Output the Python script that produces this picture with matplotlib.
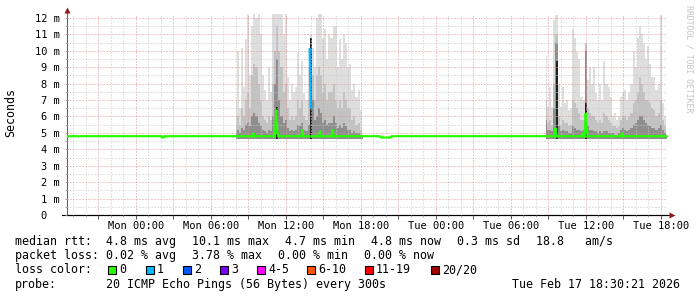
import matplotlib
matplotlib.use("Agg")
import matplotlib.pyplot as plt
import matplotlib.dates as mdates
from matplotlib.ticker import MultipleLocator, FixedLocator, FixedFormatter
from matplotlib.patches import Rectangle
import pandas as pd

plt.rcParams['font.family'] = ['DejaVu Sans Mono', 'DejaVu Sans']

# ---------------- data ----------------
x_start = "2026-02-15 18:30:21"
x_end = "2026-02-17 18:30:21"

xtick_times = pd.date_range("2026-02-15 21:00", "2026-02-17 18:00", freq="3h")
xtick_labels = ["", "Mon 00:00", "", "Mon 06:00", "", "Mon 12:00", "", "Mon 18:00",
                "", "Tue 00:00", "", "Tue 06:00", "", "Tue 12:00", "", "Tue 18:00"]

ytick_values = [0, 1, 2, 3, 4, 5, 6, 7, 8, 9, 10, 11, 12]
ytick_labels = ["0  ", "1 m", "2 m", "3 m", "4 m", "5 m", "6 m", "7 m", "8 m",
                "9 m", "10 m", "11 m", "12 m"]

# smoke (ms) sampled every 10 minutes in the two busy periods
smoke1_start = "2026-02-16 08:00"
smoke1_max = [7.0, 10.0, 6.5, 10.2, 7.8, 10.7, 12.3, 8.5, 11.5, 12.3,
              12.0, 12.3, 11.0, 8.5, 7.6, 7.0, 9.0, 7.5, 12.3, 12.3,
              12.3, 12.3, 12.3, 11.0, 12.3, 8.4, 7.0, 8.0, 7.5, 7.8,
              9.9, 8.5, 9.4, 7.4, 7.0, 9.0, 11.0, 10.2, 9.0, 12.0,
              12.3, 12.3, 10.7, 11.3, 9.5, 11.0, 10.8, 11.5, 11.5, 9.0,
              10.7, 9.5, 11.0, 10.5, 9.0, 9.2, 7.6, 8.0, 7.2, 7.6,
              6.4, 5.0]
smoke1_hi = [5.5, 6.0, 5.5, 6.5, 6.0, 7.0, 7.5, 6.5, 8.5, 9.2,
             9.0, 8.0, 7.0, 6.0, 5.8, 5.6, 6.0, 5.8, 8.0, 10.0,
             11.5, 10.0, 9.0, 7.5, 8.0, 6.5, 5.8, 6.0, 5.8, 6.0,
             7.0, 6.5, 7.0, 6.0, 5.8, 7.0, 10.5, 8.5, 7.0, 8.5,
             9.0, 8.5, 7.5, 8.0, 7.0, 7.5, 7.5, 8.0, 7.0, 6.5,
             7.0, 6.5, 7.5, 7.0, 6.5, 6.5, 5.8, 6.0, 5.5, 5.6,
             5.2, 4.9]
smoke1_dark = [5.0, 5.2, 5.0, 5.3, 5.2, 5.5, 5.6, 5.4, 6.0, 6.2,
               6.0, 5.6, 5.4, 5.2, 5.1, 5.0, 5.2, 5.1, 6.0, 8.0,
               9.5, 7.0, 6.0, 5.6, 5.8, 5.3, 5.1, 5.2, 5.1, 5.2,
               5.5, 5.4, 5.6, 5.2, 5.1, 5.5, 10.5, 7.0, 5.8, 6.0,
               6.5, 6.2, 5.6, 5.8, 5.5, 5.6, 5.6, 6.0, 5.6, 5.3,
               5.5, 5.3, 5.6, 5.4, 5.2, 5.2, 5.0, 5.1, 5.0, 5.0,
               4.9, 4.8]

smoke2_start = "2026-02-17 08:50"
smoke2_max = [9.7, 6.6, 7.8, 6.6, 11.9, 12.2, 8.0, 6.6, 7.8, 6.8,
              7.0, 6.4, 6.5, 11.3, 10.8, 9.9, 9.5, 7.2, 7.0, 10.5,
              8.2, 9.0, 8.0, 9.0, 7.4, 7.0, 8.0, 7.0, 9.4, 8.0,
              7.8, 7.2, 6.0, 6.2, 5.8, 6.0, 7.2, 7.5, 7.6, 7.0,
              7.4, 8.0, 10.0, 9.0, 10.8, 11.5, 11.0, 10.5, 9.5, 10.3,
              9.2, 8.4, 8.4, 7.6, 8.0, 12.2, 6.8, 6.0, 5.0]
smoke2_hi = [7.0, 5.6, 5.8, 5.5, 8.0, 11.0, 6.0, 5.5, 5.8, 5.6,
             5.6, 5.4, 5.5, 7.0, 6.8, 6.5, 6.2, 5.8, 5.8, 10.5,
             6.5, 6.2, 6.0, 6.0, 5.8, 5.6, 5.8, 5.6, 6.2, 6.0,
             5.8, 5.6, 5.4, 5.4, 5.3, 5.4, 5.8, 6.0, 6.0, 5.8,
             6.0, 6.2, 6.8, 7.0, 7.5, 8.4, 8.0, 7.5, 7.0, 7.0,
             6.8, 6.5, 6.4, 6.0, 6.2, 7.0, 5.8, 5.4, 4.9]
smoke2_dark = [5.8, 5.2, 5.2, 5.1, 6.5, 10.5, 5.4, 5.1, 5.2, 5.1,
               5.1, 5.0, 5.0, 5.4, 5.3, 5.2, 5.2, 5.1, 5.2, 10.0,
               5.4, 5.2, 5.2, 5.1, 5.1, 5.0, 5.1, 5.0, 5.1, 5.1,
               5.0, 5.0, 5.0, 4.9, 4.9, 5.0, 5.2, 5.3, 5.2, 5.1,
               5.2, 5.3, 5.5, 5.6, 5.8, 6.0, 6.0, 5.8, 5.6, 5.5,
               5.4, 5.3, 5.3, 5.2, 5.3, 5.5, 5.2, 5.0, 4.8]
smoke_floor = 4.65

core_times = ["2026-02-16 11:20", "2026-02-16 14:00", "2026-02-17 09:40", "2026-02-17 12:00"]
core_tops = [6.6, 10.8, 9.4, 6.8]

median_times = ["2026-02-15 18:30", "2026-02-16 02:00", "2026-02-16 02:10", "2026-02-16 02:20",
                "2026-02-16 09:20", "2026-02-16 09:25", "2026-02-16 09:30",
                "2026-02-16 11:05", "2026-02-16 11:10", "2026-02-16 11:15", "2026-02-16 11:20",
                "2026-02-16 11:25", "2026-02-16 13:15", "2026-02-16 13:20", "2026-02-16 13:25",
                "2026-02-16 13:50", "2026-02-16 13:55", "2026-02-16 14:00", "2026-02-16 14:05",
                "2026-02-16 14:40", "2026-02-16 14:45", "2026-02-16 14:50",
                "2026-02-16 15:40", "2026-02-16 15:45", "2026-02-16 15:50",
                "2026-02-16 19:30", "2026-02-16 19:40", "2026-02-16 20:20", "2026-02-16 20:30",
                "2026-02-17 09:30", "2026-02-17 09:35", "2026-02-17 09:40",
                "2026-02-17 11:40", "2026-02-17 11:45", "2026-02-17 11:50",
                "2026-02-17 11:55", "2026-02-17 12:00", "2026-02-17 12:05", "2026-02-17 12:10",
                "2026-02-17 14:50", "2026-02-17 14:55", "2026-02-17 15:00", "2026-02-17 18:30"]
median_values = [4.8, 4.8, 4.72, 4.8,
                 4.8, 4.97, 4.8,
                 4.8, 5.3, 6.4, 5.0,
                 4.8, 4.8, 5.2, 4.8,
                 4.8, 10.1, 6.6, 4.8,
                 4.8, 5.1, 4.8,
                 4.8, 5.2, 4.8,
                 4.8, 4.72, 4.72, 4.8,
                 4.8, 5.3, 4.8,
                 4.8, 5.0, 4.8,
                 4.8, 6.2, 5.2, 4.8,
                 4.8, 5.0, 4.8, 4.8]
median_loss = [0, 0, 0, 0,
               0, 0, 0,
               0, 0, 0, 0,
               0, 0, 0, 0,
               0, 1, 1, 0,
               0, 0, 0,
               0, 0, 0,
               0, 0, 0, 0,
               0, 0, 0,
               0, 0, 0,
               0, 0, 0, 0,
               0, 0, 0, 0]

rtt_label = "median rtt:"
rtt_stats = ["4.8 ms avg", "10.1 ms max", "4.7 ms min", "4.8 ms now", "0.3 ms sd", "18.8   am/s"]
loss_label = "packet loss:"
loss_stats = ["0.02 % avg", "3.78 % max", "0.00 % min", "0.00 % now"]
color_label = "loss color:"
loss_names = ["0", "1", "2", "3", "4-5", "6-10", "11-19", "20/20"]
loss_colors = ["#26ff00", "#00b8ff", "#0059ff", "#7e00ff", "#ff00ff", "#ff5500", "#ff0000", "#a10000"]
probe_label = "probe:"
probe_text = "20 ICMP Echo Pings (56 Bytes) every 300s"
stamp_text = "Tue Feb 17 18:30:21 2026"
watermark = "RRDTOOL / TOBI OETIKER"
ylabel = "Seconds"

# ---------------- layout ----------------
W, H = 697, 297
fig = plt.figure(figsize=(W / 100, H / 100), dpi=100)
fig.patch.set_facecolor("white")


def fx(px):
    return px / W


def fy(py):
    return 1 - py / H


AX_L, AX_R, AX_T, AX_B = 67, 667, 14, 215
PX_PER_MS = 16.42
ax = fig.add_axes([fx(AX_L), fy(AX_B), (AX_R - AX_L) / W, (AX_B - AX_T) / H])
ax.set_facecolor("white")
ax.set_xlim(pd.Timestamp(x_start), pd.Timestamp(x_end))
ax.set_ylim(0, (AX_B - AX_T) / PX_PER_MS)

# smoke
shades = ["#dedede", "#c2c2c2", "#8e8e8e"]
for start, layers in [(smoke1_start, (smoke1_max, smoke1_hi, smoke1_dark)),
                      (smoke2_start, (smoke2_max, smoke2_hi, smoke2_dark))]:
    t = pd.date_range(start, periods=len(layers[0]), freq="10min")
    for vals, col in zip(layers, shades):
        ax.fill_between(t, smoke_floor, vals, step="mid", color=col, lw=0, zorder=1)

ax.vlines(pd.to_datetime(core_times), smoke_floor, core_tops, color="#1e1e1e", lw=1.4, zorder=1.5)

# median line, one line per loss class (segments only where neighbours share the class)
mt = pd.to_datetime(median_times)
for cls, col in enumerate(loss_colors):
    yv = [v if l == cls else float("nan") for v, l in zip(median_values, median_loss)]
    if all(y != y for y in yv):
        continue
    ax.plot(mt, yv, color=col, lw=1.6, zorder=3 + 0.1 * cls, solid_joinstyle="miter")
    ax.plot(mt, yv, color=col, lw=0, marker="s", ms=1.6, mec="none", zorder=3 + 0.1 * cls)

# grid
ax.set_axisbelow(False)
ax.xaxis.set_major_locator(FixedLocator(mdates.date2num(xtick_times)))
ax.xaxis.set_major_formatter(FixedFormatter(xtick_labels))
ax.xaxis.set_minor_locator(mdates.HourLocator())
ax.yaxis.set_major_locator(FixedLocator(ytick_values))
ax.yaxis.set_major_formatter(FixedFormatter(ytick_labels))
ax.yaxis.set_minor_locator(MultipleLocator(0.5))
ax.grid(which="major", color="#dc9494", linestyle=(0, (1, 2)), lw=0.72)
ax.grid(which="minor", color="#c9c9c9", linestyle=(0, (1, 2)), lw=0.72)

ax.tick_params(axis="x", which="major", length=3, width=0.7, color="#555555", direction="out",
               labelsize=7.5, pad=1.5, labelcolor="black")
ax.tick_params(axis="x", which="minor", length=1.5, width=0.6, color="#999999", direction="out")
ax.tick_params(axis="y", which="both", length=1.5, width=0.6, color="#999999", direction="out",
               labelsize=7.5, pad=3.6, labelcolor="black")

for s in ("top", "right"):
    ax.spines[s].set_visible(False)
ax.spines["left"].set_color("#666666")
ax.spines["left"].set_linewidth(0.8)
ax.spines["bottom"].set_color("black")
ax.spines["bottom"].set_linewidth(0.8)

# axis extensions and arrows
ax.plot([0, 0], [1, 1.02], transform=ax.transAxes, color="#666666", lw=0.8, clip_on=False)
ax.plot([-0.008, 1.006], [0, 0], transform=ax.transAxes, color="black", lw=0.8, clip_on=False)
ax.plot([0], [1.022], transform=ax.transAxes, marker="^", ms=4.2, color="#8e1a1a", mec="none", clip_on=False)
ax.plot([1.009], [0], transform=ax.transAxes, marker=">", ms=4.2, color="#8e1a1a", mec="none", clip_on=False)

# y label and watermark
fig.text(fx(10.5), fy(113), ylabel, rotation=90, ha="center", va="center", fontsize=8.4)
fig.text(fx(689), fy(59), watermark, rotation=270, ha="center", va="center", fontsize=5.9,
         color="#c4c4c4")

# legend
FS = 8.4
base = [245, 259.2, 273.4, 287.6]
fig.text(fx(15), fy(base[0]), rtt_label, fontsize=FS, va="baseline")
for txt, px in zip(rtt_stats, [106, 192, 285, 371, 457, 536]):
    fig.text(fx(px), fy(base[0]), txt, fontsize=FS, va="baseline")
fig.text(fx(15), fy(base[1]), loss_label, fontsize=FS, va="baseline")
for txt, px in zip(loss_stats, [106, 192, 278, 364]):
    fig.text(fx(px), fy(base[1]), txt, fontsize=FS, va="baseline")
fig.text(fx(15), fy(base[2]), color_label, fontsize=FS, va="baseline")
for name, col, px in zip(loss_names, loss_colors, [108, 146, 183, 220, 257, 307, 365, 431]):
    fig.add_artist(Rectangle((fx(px), fy(273.5)), 8 / W, 8 / H, transform=fig.transFigure,
                             facecolor=col, edgecolor="black", lw=0.8))
    fig.text(fx(px + 11), fy(base[2]), name, fontsize=FS, va="baseline")
fig.text(fx(15), fy(base[3]), probe_label, fontsize=FS, va="baseline")
fig.text(fx(106), fy(base[3]), probe_text, fontsize=FS, va="baseline")
fig.text(fx(512), fy(base[3]), stamp_text, fontsize=FS, va="baseline")

fig.savefig("out.png", dpi=100, facecolor="white")
